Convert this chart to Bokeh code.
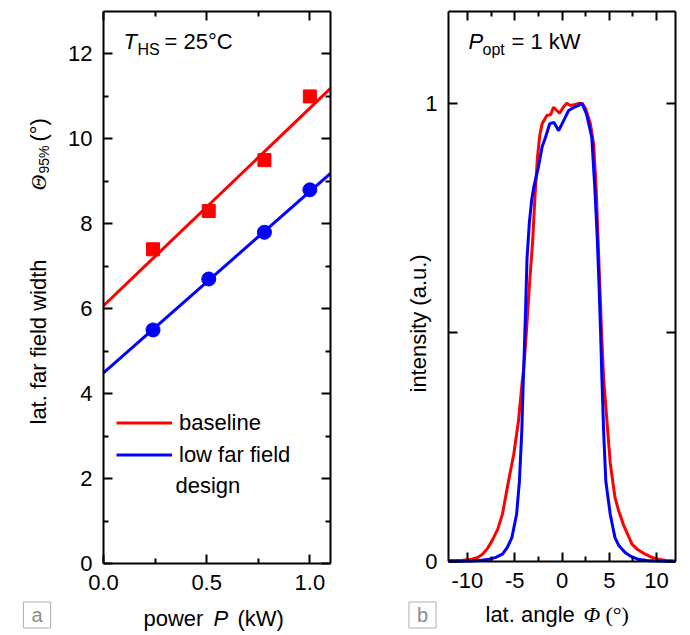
import math
from bokeh.plotting import figure
from bokeh.layouts import row
from bokeh.models import (Range1d, LinearAxis, FixedTicker,
                          PrintfTickFormatter, Label, Legend, LegendItem)
from bokeh.embed import file_html
from bokeh.resources import INLINE

# ---------------- data: panel a ----------------
power_kw = [0.24, 0.51, 0.78, 1.0]
baseline_width = [7.4, 8.3, 9.5, 11.0]
lowff_width = [5.5, 6.7, 7.8, 8.8]
fit_power = [0.0, 1.1]
baseline_fit = [6.07, 11.19]
lowff_fit = [4.49, 9.19]
xticks_a = [0.0, 0.5, 1.0]
xminor_a = [0.25, 0.75]
yticks_a = [0, 2, 4, 6, 8, 10, 12]
yminor_a = [1, 3, 5, 7, 9, 11]

# ---------------- data: panel b ----------------
red_angle = [-12, -10.5, -9.5, -8.9, -8.4, -7.9, -7.4, -6.8, -6.3, -5.65,
             -5.1, -4.6, -4.2, -4.05, -3.8, -3.6, -3.35, -3.1, -2.85, -2.6,
             -2.35, -2.1, -1.6, -1.2, -0.9, -0.6, -0.25, 0.1, 0.5, 0.9,
             1.4, 1.9, 2.2, 2.5, 3.0, 3.35, 3.62, 3.8, 4.0, 4.18,
             4.4, 4.7, 5.1, 5.6, 6.0, 6.5, 7.4, 8.0, 8.8, 9.5,
             10.2, 11.0, 12.0]
red_intensity = [0.002, 0.003, 0.005, 0.009, 0.016, 0.028, 0.045, 0.07, 0.103, 0.176,
                 0.234, 0.307, 0.394, 0.42, 0.49, 0.554, 0.63, 0.70, 0.80, 0.88,
                 0.93, 0.955, 0.973, 0.975, 0.991, 0.985, 0.978, 0.99, 1.0, 0.995,
                 0.997, 1.0, 0.998, 0.988, 0.955, 0.91, 0.81, 0.71, 0.60, 0.50,
                 0.40, 0.32, 0.215, 0.14, 0.11, 0.08, 0.038, 0.026, 0.016, 0.009,
                 0.005, 0.002, 0.001]
blue_angle = [-12, -9.5, -8.5, -7.7, -7.0, -6.3, -5.8, -5.3, -4.8, -4.5,
              -4.25, -4.1, -4.0, -3.85, -3.7, -3.45, -3.2, -3.0, -2.5, -2.1,
              -1.75, -1.3, -0.85, -0.35, 0.17, 0.7, 1.2, 1.75, 2.1, 2.6,
              3.15, 3.47, 3.72, 3.92, 4.08, 4.22, 4.4, 4.63, 5.1, 5.6,
              6.0, 6.7, 7.3, 8.0, 9.0, 10.0, 12.0]
blue_intensity = [0.0, 0.001, 0.003, 0.005, 0.009, 0.016, 0.03, 0.052, 0.103, 0.176,
                  0.285, 0.39, 0.45, 0.55, 0.66, 0.74, 0.79, 0.815, 0.86, 0.905,
                  0.925, 0.955, 0.958, 0.94, 0.962, 0.984, 0.99, 0.995, 1.0, 0.976,
                  0.925, 0.815, 0.71, 0.60, 0.50, 0.40, 0.285, 0.176, 0.103, 0.052,
                  0.035, 0.019, 0.011, 0.005, 0.002, 0.001, 0.0]
xticks_b = [-10, -5, 0, 5, 10]
xminor_b = [-7.5, -2.5, 2.5, 7.5]
yticks_b = [0, 0.5, 1]
ytick_labels_b = {0.5: ""}

RED = "#ff0000"
BLUE = "#0000ff"
FONT = "Liberation Sans"
SERIF = "Liberation Serif"

# ---------------- layout geometry (page pixels) ----------------
PAGE_X0, PAGE_Y0 = 0, 0
H = 634
WA, WB = 345, 344
BOX_A = (103, 11, 330, 563)
BOX_B = (448, 11, 675, 561)
XA, YA = (0.0, 1.1), (0.0, 13.0)
XB, YB = (-12.0, 12.0), (0.0, 1.2)
BASE_FIX = 8  # correction between requested and drawn alphabetic baseline


def ranges(canvas_left, width, box, xr, yr):
    l, t, r, b = box
    cl, ct = canvas_left, PAGE_Y0
    kx = (r - l) / (xr[1] - xr[0])
    ky = (b - t) / (yr[1] - yr[0])
    x0 = xr[0] - (l - cl) / kx
    x1 = xr[1] + (cl + width - r) / kx
    y1 = yr[1] + (t - ct) / ky
    y0 = yr[0] - (ct + H - b) / ky
    return Range1d(x0, x1), Range1d(y0, y1)


def style_axis(ax, labels=True):
    ax.axis_line_width = 2
    ax.axis_line_color = "black"
    ax.major_tick_line_width = 2
    ax.minor_tick_line_width = 2
    ax.major_tick_line_color = "black"
    ax.minor_tick_line_color = "black"
    ax.major_tick_in = 9
    ax.major_tick_out = 0
    ax.minor_tick_in = 5
    ax.minor_tick_out = 0
    ax.major_label_text_font = FONT
    ax.major_label_text_font_size = "22px"
    ax.axis_label = None
    if labels:
        ax.major_label_text_color = "black"
        ax.major_label_standoff = 11
    else:
        ax.major_label_text_color = None
        ax.major_label_text_alpha = 0
        ax.major_label_standoff = 0


def make_fig(canvas_left, width, box, xr, yr):
    x_range, y_range = ranges(canvas_left, width, box, xr, yr)
    p = figure(width=width, height=H, output_backend="svg", toolbar_location=None,
               x_range=x_range, y_range=y_range,
               min_border_left=0, min_border_right=0, min_border_top=0,
               min_border_bottom=0)
    p.xgrid.visible = False
    p.ygrid.visible = False
    p.outline_line_color = None
    p.border_fill_color = "white"
    return p


def add_frame_axes(p, xr, yr, xt, xm, yt, ym):
    xa, ya = p.xaxis[0], p.yaxis[0]
    xa.ticker = FixedTicker(ticks=xt, minor_ticks=xm)
    ya.ticker = FixedTicker(ticks=yt, minor_ticks=ym)
    xa.fixed_location, xa.bounds = yr[0], xr
    ya.fixed_location, ya.bounds = xr[0], yr
    style_axis(xa)
    style_axis(ya)
    ra = LinearAxis(ticker=FixedTicker(ticks=yt, minor_ticks=ym),
                    fixed_location=xr[1], bounds=yr)
    ta = LinearAxis(ticker=FixedTicker(ticks=xt, minor_ticks=xm),
                    fixed_location=yr[1], bounds=xr)
    style_axis(ra, labels=False)
    style_axis(ta, labels=False)
    p.add_layout(ra, "right")
    p.add_layout(ta, "above")
    return xa, ya


def lab(p, origin, X, Y, text, size="22px", font=FONT, style="normal", angle=0.0,
        align="left", baseline="alphabetic", color="black", **kw):
    ox, ob = origin
    if baseline == "alphabetic":
        if angle == 0.0:
            Y -= BASE_FIX
        else:
            X -= BASE_FIX
    p.add_layout(Label(x=X - ox, y=ob - Y, x_units="screen", y_units="screen",
                       text=text, text_font=font, text_font_size=size,
                       text_font_style=style, angle=angle, text_align=align,
                       text_baseline=baseline, text_color=color, **kw))


def panel_tag(p, origin, X, Y, text):
    lab(p, origin, X, Y, text, size="20px", align="center", baseline="middle",
        color="#8c8c8c", border_line_color="#b0b0b0", border_line_width=1,
        background_fill_color="white", padding=(8, 2))


UP = math.pi / 2

# ---------------- panel a ----------------
OA = (PAGE_X0, PAGE_Y0 + H)
pa = make_fig(PAGE_X0, WA, BOX_A, XA, YA)
xa_ax, ya_ax = add_frame_axes(pa, XA, YA, xticks_a, xminor_a, yticks_a, yminor_a)
xa_ax.formatter = PrintfTickFormatter(format="%.1f")
ya_ax.formatter = PrintfTickFormatter(format="%d")

r_fit = pa.line(fit_power, baseline_fit, color=RED, line_width=3)
b_fit = pa.line(fit_power, lowff_fit, color=BLUE, line_width=3)
pa.scatter(power_kw, baseline_width, marker="square", size=13, color=RED)
pa.scatter(power_kw, lowff_width, marker="circle", size=14, color=BLUE)

leg = Legend(items=[LegendItem(label="baseline", renderers=[r_fit]),
                    LegendItem(label="low far field", renderers=[b_fit])],
             location=(116 - OA[0], OA[1] - 467.5), glyph_width=56, glyph_height=25,
             label_height=25, label_standoff=7, spacing=6, padding=0, margin=0,
             border_line_color=None, background_fill_alpha=0,
             label_text_font=FONT, label_text_font_size="22px",
             label_text_color="black")
pa.add_layout(leg)
lab(pa, OA, 175, 493, "design")

lab(pa, OA, 123, 49, "T", style="italic")
lab(pa, OA, 137, 57, "HS", size="16px")
lab(pa, OA, 164, 49, "= 25°C")

lab(pa, OA, 46, 424, "lat. far field width", angle=UP)
lab(pa, OA, 46, 190, "Θ", font=SERIF, style="italic", angle=UP)
lab(pa, OA, 51, 173, "95%", size="14px", angle=UP)
lab(pa, OA, 46, 141, "(°)", angle=UP)

lab(pa, OA, 143, 626, "power")
lab(pa, OA, 213, 626, "P", style="italic")
lab(pa, OA, 237, 626, "(kW)")
panel_tag(pa, OA, 36.5, 614.5, "a")

# ---------------- panel b ----------------
OB = (PAGE_X0 + WA, PAGE_Y0 + H)
pb = make_fig(PAGE_X0 + WA, WB, BOX_B, XB, YB)
xb_ax, yb_ax = add_frame_axes(pb, XB, YB, xticks_b, xminor_b, yticks_b, [])
xb_ax.formatter = PrintfTickFormatter(format="%d")
yb_ax.major_label_overrides = ytick_labels_b

pb.line(red_angle, red_intensity, color=RED, line_width=3)
pb.line(blue_angle, blue_intensity, color=BLUE, line_width=3)

lab(pb, OB, 468, 49, "P", style="italic")
lab(pb, OB, 482, 57, "opt", size="16px")
lab(pb, OB, 511, 49, "= 1 kW")
lab(pb, OB, 426, 392, "intensity (a.u.)", angle=UP)
lab(pb, OB, 485, 622, "lat. angle")
lab(pb, OB, 583, 622, "Φ", font=SERIF, style="italic")
lab(pb, OB, 605, 622, "(°)", font=SERIF)
panel_tag(pb, OB, 422, 614.5, "b")

layout = row(pa, pb)
open("out.html", "w").write(file_html(layout, INLINE))
